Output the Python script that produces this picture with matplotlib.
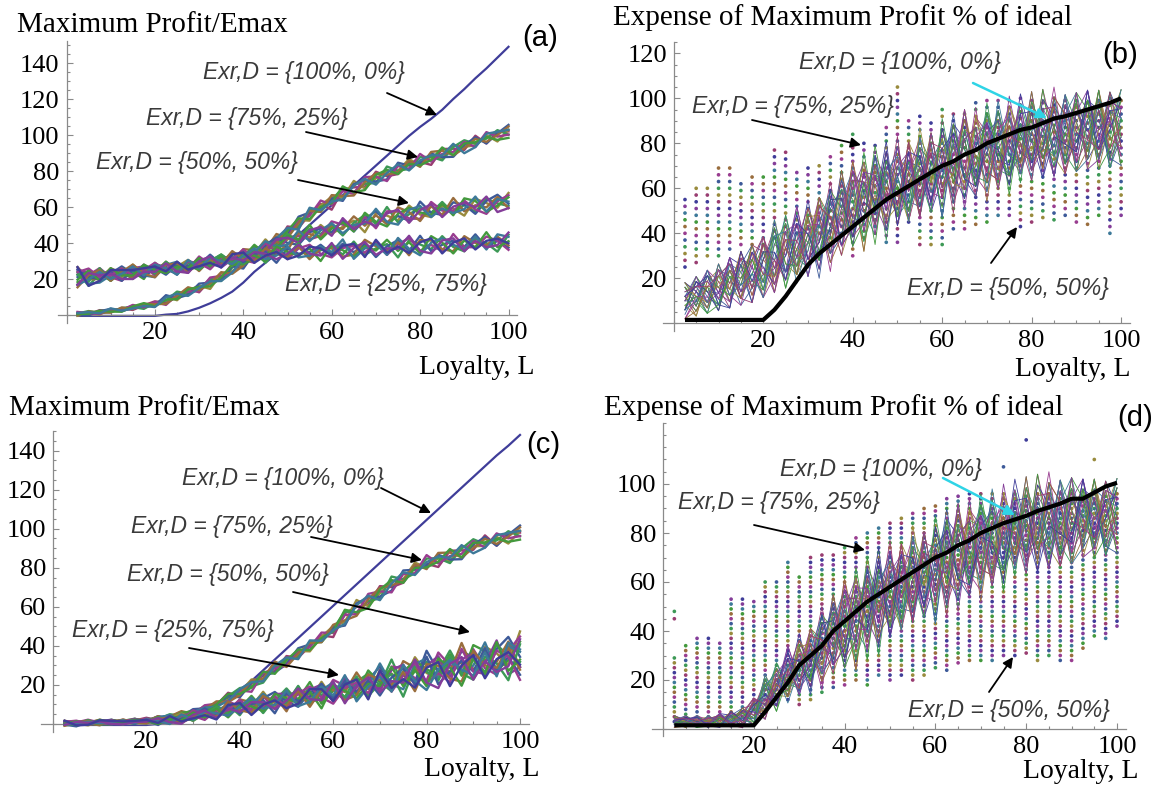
import colorsys

import numpy as np
import matplotlib
matplotlib.use("Agg")
import matplotlib.pyplot as plt
from matplotlib.patches import FancyArrowPatch
from matplotlib.ticker import MultipleLocator

W, H = 1165, 788

# ****** Data ******

loyalty = [2.5, 5, 7.5, 10, 12.5, 15, 17.5, 20, 22.5, 25, 27.5, 30, 32.5, 35, 37.5, 40,
           42.5, 45, 47.5, 50, 52.5, 55, 57.5, 60, 62.5, 65, 67.5, 70, 72.5, 75, 77.5, 80,
           82.5, 85, 87.5, 90, 92.5, 95, 97.5, 100]

# panel (a): Maximum Profit/Emax
a_ideal = [-0.5, -0.5, -0.5, -0.5, -0.5, -0.5, -0.5, -0.5, 0.2, 0.6, 2, 4, 6.5, 9.5, 13, 18,
           24, 29, 34, 39, 44.5, 50, 55.5, 61, 66.5, 72, 77.5, 83, 88.5, 94, 99.5, 104.5,
           109, 114, 120, 125.5, 131.5, 137, 143, 149]
a_75 = [0.5, 1, 1.5, 2.5, 3, 4, 5, 6, 8, 10, 13, 15, 18, 21, 25, 29,
        33, 37, 41, 46, 51, 56, 60, 63, 67, 70, 73, 76, 78, 81, 83, 85,
        87, 89.5, 91.5, 93.5, 96, 98, 100, 102]
a_50 = [21, 21, 22, 22, 23, 24, 24, 25, 26, 26, 27, 28, 29, 30, 31, 33,
        35, 37, 39, 41, 43, 45, 46, 48, 49, 50, 52, 53, 54, 55, 56, 57,
        58, 58, 59, 60, 61, 61, 62, 63]
a_25 = [21, 21, 22, 22, 23, 24, 24, 25, 26, 26, 27, 28, 29, 30, 31, 32,
        33, 33, 34, 34, 35, 35, 35, 36, 36, 36, 37, 37, 37, 38, 38, 38,
        39, 39, 39, 39, 40, 40, 40, 41]
a_low_spread = [1.5, 1.5, 1.5, 1.5, 1.5, 2, 2, 2, 3, 3, 3, 3, 3.5, 3.5, 3.5, 4,
                4, 4, 4, 4, 4.5, 4.5, 4.5, 4.5, 4.5, 4.5, 4.5, 4.5, 4.5, 4.5, 4.5, 4.5,
                4.5, 4.5, 4.5, 4.5, 4.5, 4.5, 4.5, 4.5]
a_up_spread = [7, 6, 5, 5, 5, 5, 5, 5, 4.5, 4.5, 4.5, 4.5, 4.5, 4.5, 4.5, 4.5,
               5, 5, 5, 5, 5, 5, 5, 5, 6, 6, 6, 6, 6, 6, 6, 6,
               6, 6, 6, 6, 6, 6, 6, 6]

# panel (c): Maximum Profit/Emax
c_ideal = [-0.5, -0.5, -0.5, -0.5, -0.5, -0.5, -0.5, -0.5, 0, 0.5, 1.5, 3.5, 6, 9, 13, 17.5,
           22, 27.5, 33, 38.5, 44, 49.5, 55, 60.5, 66, 71.5, 77, 82.5, 88, 93.5, 99, 104.5,
           110, 115.5, 121, 126.5, 132, 137.5, 142.5, 148]
c_75 = [0, 0, 0.5, 0.5, 1, 1, 1.5, 2, 2.5, 3.5, 5, 6, 8, 10, 13, 16,
        20, 24, 28.5, 32, 36, 40, 44, 48, 54, 59, 63, 67, 71, 75, 79, 82,
        84, 86, 88, 91, 93, 94, 96, 98]
c_50 = [0.5, 0.5, 1, 1, 1, 1, 1.5, 1.5, 2, 2.5, 3, 4, 5, 6, 8, 9,
        10, 11, 12, 13, 14, 15, 16, 17, 18, 20, 21, 23, 24, 25, 27, 28,
        29, 30, 31, 32, 33, 34, 35, 37]
c_25 = [0.5, 0.5, 0.5, 1, 1, 1, 1, 1.5, 1.5, 2, 2.5, 3.5, 4.5, 5.5, 7, 8,
        9, 10, 11, 12, 13, 14, 15, 16, 17, 18, 19, 21, 22, 23, 24, 25,
        26, 27, 28, 29, 30, 31, 32, 33]
c_75_spread = [1.5, 1.5, 1.5, 1.5, 1.5, 1.5, 1.5, 1.5, 1.5, 1.5, 2, 2, 2, 2, 3, 3,
               3.5, 3.5, 3.5, 3.5, 3.5, 3.5, 3.5, 3.5, 4.5, 4.5, 4.5, 4.5, 4.5, 4.5, 4.5, 4.5,
               4.5, 4.5, 4.5, 4.5, 4.5, 4.5, 4.5, 4.5]
c_low_spread = [1.5, 1.5, 1.5, 1.5, 1.5, 1.5, 1.5, 1.5, 2.5, 2.5, 3, 3, 3, 4, 4.5, 4.5,
                5.5, 5.5, 5.5, 6.5, 6.5, 6.5, 7, 7, 8, 8, 8, 8, 9, 9, 9, 9.5,
                9.5, 9.5, 10.5, 10.5, 11, 11, 12, 13]

# panel (b): Expense of Maximum Profit % of ideal
b_ideal = [1.5, 1.5, 1.5, 1.5, 1.5, 1.5, 1.5, 1.5, 6, 12, 19, 26, 31, 35, 39, 43,
           47, 51, 55, 58, 61, 64, 67, 70, 72, 75, 77, 80, 82, 84, 86, 87,
           89, 91, 92, 93.5, 95, 96.5, 98, 100]
b_75 = [10, 12, 14, 16, 18, 20, 22, 25, 28, 30, 33, 36, 40, 43, 47, 51,
        54, 57, 59, 61, 63, 65, 67, 69, 71, 73, 74, 76, 77, 79, 80, 81,
        82, 83, 84, 85, 86, 86, 86, 87]
b_spread = [10, 11, 12, 13, 14, 15, 16, 17, 18, 18, 19, 19, 20, 20, 21, 21,
            22, 22, 22, 22, 22, 22, 22, 22, 22, 22, 22, 22, 22, 22, 22, 22,
            22, 22, 22, 22, 22, 22, 21, 21]
b_dot_lo = [25, 27, 30, 30, 33, 35, 35, 35, 38, 40, 40, 42, 40, 38, 40, 30,
            38, 40, 36, 36, 45, 35, 35, 35, 42, 42, 44, 45, 48, 48, 43, 45,
            47, 46, 48, 45, 44, 48, 40, 48]
b_dot_hi = [55, 62, 60, 70, 70, 62, 66, 65, 77, 76, 68, 70, 72, 74, 80, 85,
            82, 80, 88, 106, 90, 92, 90, 95, 95, 95, 98, 100, 100, 100, 100, 100,
            100, 100, 100, 100, 100, 100, 100, 100]

# panel (d): Expense of Maximum Profit % of ideal
d_ideal = [1.5, 1.5, 1.5, 1.5, 1.5, 1.5, 1.5, 1.5, 7, 13, 19, 26, 30, 34, 40, 44,
           48, 52, 55, 58, 61, 64, 67, 70, 72, 75, 77, 80, 82, 84, 85.5, 87,
           89, 90.5, 92, 94, 94, 96.5, 99, 100.5]
d_75 = [3, 3, 3, 3, 3.5, 4, 4.5, 7, 12, 16, 21, 25, 29, 33, 37, 41,
        45, 49, 52, 55, 58, 61, 63, 65, 68, 70, 72, 74, 76, 78, 80, 81,
        82, 83, 84, 85, 86, 86, 86, 87]
d_spread = [3, 3, 3, 3, 3.5, 4, 5, 7, 10, 11, 13, 14, 15, 17, 18, 20,
            21, 21, 22, 22, 22, 22, 22, 22, 22, 22, 22, 22, 22, 22, 22, 22,
            22, 22, 22, 22, 20, 20, 19, 19]
d_dot_lo = [3, 2, 3, 3, 5, 5, 5, 8, 10, 10, 12, 10, 12, 15, 17, 18,
            20, 18, 22, 20, 22, 20, 22, 25, 24, 27, 28, 28, 28, 30, 30, 31,
            28, 30, 28, 28, 33, 38, 37, 42]
d_dot_hi = [30, 35, 38, 38, 35, 53, 53, 52, 60, 60, 68, 63, 70, 72, 72, 75,
            78, 80, 82, 84, 86, 88, 90, 92, 94, 95, 96, 96, 96, 96, 96, 96,
            96, 96, 96, 96, 96, 96, 96, 96]
d_out_l = [2.5, 2.5, 75, 80, 95]
d_out_y = [45, 48, 107, 118, 110]

# zig-zag of single runs around the cluster middle, in fifths of the spread
wig_1 = [3, -2, 4, -1, 2, -3, 1, 4, -2, 0, 3, -4, 2, -1, 5, -3, 1, 2, -2, 4,
         -3, 0, 2, -5, 3, 1, -2, 4, -1, -3, 2, 0, -4, 3, 1, -2, 4, -3, 2, 0]
wig_2 = [-3, 1, -4, 2, 0, 3, -2, -1, 4, -3, 1, 2, -5, 3, -1, 0, 4, -2, 3, -1,
         2, -4, 1, 3, -2, 5, -3, 0, 2, -1, 4, -2, 1, -3, 3, 0, -2, 2, -4, 1]
wig_3 = [1, 4, -1, -3, 3, 1, -4, 2, 0, 5, -2, -1, 3, -3, 2, 4, -1, -4, 1, 2,
         -2, 3, -3, 1, 4, -2, 0, -3, 5, -1, -2, 3, 1, -4, 2, 4, -1, 0, 3, -2]
wig_4 = [-1, -4, 2, 3, -3, 0, 2, -2, 5, -1, -3, 4, 0, -2, 3, -4, 2, 1, -3, -2,
         4, 1, -1, 2, -4, 3, 2, -2, -3, 4, 0, -1, 3, -2, -4, 1, 3, -3, 1, 4]
wig_5 = [4, 0, -3, 1, -1, 4, -2, 3, -4, 2, 0, -3, 4, 1, -2, 2, -5, 3, 0, -3,
         1, -1, 4, -2, 2, -3, 4, 1, -4, 2, -2, 5, -2, 0, -1, 3, -3, 4, -1, -2]
wig_6 = [-2, 3, 0, -4, 4, -2, 3, 0, -3, 1, 4, -2, -1, 4, -3, -2, 3, -1, 5, -4,
         0, 2, -3, 4, -1, -4, 1, 3, 0, -2, 3, -3, 4, 2, -3, -1, 2, -2, 0, 3]
wig_7 = [0, -1, 3, -2, -4, 2, 4, -3, 1, -2, 2, 1, -3, 0, 4, -1, -2, 4, -4, 1,
         3, -3, 0, -1, 5, -2, -4, 2, 3, -3, 1, -2, -1, 4, -3, 2, 0, 1, -3, -4]
wig_8 = [2, 2, -2, 4, -2, -1, 0, -4, 3, 3, -4, 0, 1, -3, -2, 3, 2, -3, 2, 3,
         -4, 4, -2, 0, -3, 2, 3, -4, 1, 3, -3, 1, 2, -1, 4, -4, -3, 3, 2, 1]
wiggles = [wig_1, wig_2, wig_3, wig_4, wig_5, wig_6, wig_7, wig_8]

plt.rcParams["font.family"] = ["Liberation Serif", "DejaVu Serif"]

ANNOT = dict(family="Liberation Sans", style="italic", fontsize=16.5, color="#3a3a3a")
AXIS_GRAY = "#8a8a8a"


def palette(n):
    # old Mathematica default plot colours, hues spaced by the golden ratio
    return [colorsys.hsv_to_rgb((0.67 + 2.0 * k / 1.618034) % 1.0, 0.6, 0.6) for k in range(n)]


PAL = palette(10)


def fig_xy(x, y):
    return x / W, 1 - y / H


def make_axes(fig, x0, sx, y0, sy, xlim, ylim, yticks):
    # x0,y0 = pixel of the data origin, sx,sy = pixels per unit
    left = x0 + xlim[0] * sx
    right = x0 + xlim[1] * sx
    top = y0 - ylim[1] * sy
    bottom = y0 - ylim[0] * sy
    ax = fig.add_axes([left / W, 1 - bottom / H, (right - left) / W, (bottom - top) / H])
    ax.set_xlim(*xlim)
    ax.set_ylim(*ylim)
    ax.patch.set_alpha(0)
    for s in ("top", "right"):
        ax.spines[s].set_visible(False)
    for s in ("left", "bottom"):
        ax.spines[s].set_position(("data", 0))
        ax.spines[s].set_color(AXIS_GRAY)
        ax.spines[s].set_linewidth(0.9)
    ax.set_xticks([20, 40, 60, 80, 100])
    ax.set_yticks(yticks)
    ax.xaxis.set_minor_locator(MultipleLocator(5))
    ax.yaxis.set_minor_locator(MultipleLocator(5))
    ax.tick_params(which="both", direction="in", color=AXIS_GRAY, labelcolor="black",
                   width=0.8, labelsize=19)
    ax.tick_params(which="major", length=4.5, pad=5)
    ax.tick_params(which="minor", length=2.5)
    return ax


def text(fig, x, y, s, ha="left", **kw):
    fig.text(*fig_xy(x, y), s, ha=ha, va="center", **kw)


def arrow(fig, tail, tip, color="black", lw=1.3):
    fig.add_artist(FancyArrowPatch(fig_xy(*tail), fig_xy(*tip), transform=fig.transFigure,
                                   arrowstyle="-|>", mutation_scale=15, lw=lw, color=color,
                                   shrinkA=0, shrinkB=0))


def draw_profit(ax, ideal, clusters):
    ax.plot(loyalty, ideal, color=PAL[0], lw=1.6, zorder=2)
    for c, (center, spread) in enumerate(clusters):
        for k, w in enumerate(wiggles):
            y = np.asarray(center) + np.roll(w, 3 * c) / 5.0 * np.asarray(spread)
            ax.plot(loyalty, y, color=PAL[(k + 1 + c) % 10], lw=1.7, zorder=3)


def draw_expense(ax, center, spread, ideal, dot_lo, dot_hi, step):
    for i, L in enumerate(loyalty):
        ys = np.arange(dot_lo[i], dot_hi[i] + 0.01, step)
        cols = [PAL[(i + j) % 10] for j in range(len(ys))]
        ax.scatter(np.full(len(ys), L), ys, s=7, c=cols, linewidths=0, zorder=2)
    center = np.asarray(center)
    spread = np.asarray(spread)
    n = 0
    for w in wiggles:
        w = np.asarray(w)
        for variant in (w, np.roll(w, 1), w[::-1], np.roll(w[::-1], 2)):
            ax.plot(loyalty, center + variant / 5.0 * spread, color=PAL[n % 10], lw=0.6, zorder=3)
            n += 1
    ax.plot(loyalty, ideal, color="black", lw=3, zorder=5, solid_capstyle="butt")


fig = plt.figure(figsize=(W / 100, H / 100), dpi=100)

# ****** (a) ******
ax_a = make_axes(fig, 66.5, 4.42, 315, 1.8, (-2, 102), (-4.4, 152), [20, 40, 60, 80, 100, 120, 140])
draw_profit(ax_a, a_ideal, [(a_75, a_low_spread), (a_50, a_up_spread), (a_25, a_up_spread)])

# ****** (b) ******
ax_b = make_axes(fig, 673.8, 4.473, 323.3, 2.25, (-2.5, 102), (-3.5, 125), [20, 40, 60, 80, 100, 120])
draw_expense(ax_b, b_75, b_spread, b_ideal, b_dot_lo, b_dot_hi, 3)

# ****** (c) ******
ax_c = make_axes(fig, 53, 4.67, 724, 1.953, (-2.5, 102), (-4, 150), [20, 40, 60, 80, 100, 120, 140])
draw_profit(ax_c, c_ideal, [(c_75, c_75_spread), (c_50, c_low_spread), (c_25, c_low_spread)])

# ****** (d) ******
ax_d = make_axes(fig, 663, 4.54, 729, 2.45, (-2.5, 102), (-3, 125), [20, 40, 60, 80, 100])
draw_expense(ax_d, d_75, d_spread, d_ideal, d_dot_lo, d_dot_hi, 2)
ax_d.scatter(d_out_l, d_out_y, s=7, c=[PAL[1], PAL[3], PAL[4], PAL[0], PAL[2]], linewidths=0, zorder=2)

# ****** Titles, axis names, panel letters ******
for x, y, s in [(17, 25, "Maximum Profit/Emax"), (613, 18, "Expense of Maximum Profit % of ideal"),
                (9, 408, "Maximum Profit/Emax"), (604, 408, "Expense of Maximum Profit % of ideal")]:
    text(fig, x, y, s, fontsize=21)
for x, y in [(419, 367), (1015, 369), (424, 770), (1023, 772)]:
    text(fig, x, y, "Loyalty, L", fontsize=20)
for x, y, s in [(522, 38, "(a)"), (1102, 55, "(b)"), (526, 445, "(c)"), (1117, 418, "(d)")]:
    text(fig, x, y, s, fontsize=21, family="Liberation Sans")

# ****** Annotations ******
L100 = "Exr,D = {100%, 0%}"
L75 = "Exr,D = {75%, 25%}"
L50 = "Exr,D = {50%, 50%}"
L25 = "Exr,D = {25%, 75%}"

for x, y, s in [(304, 72, L100), (247, 118, L75), (197, 162, L50), (386, 285, L25),
                (900, 62, L100), (793, 107, L75), (1008, 288, L50),
                (283, 478, L100), (232, 527, L75), (228, 575, L50), (173, 630, L25),
                (881, 470, L100), (779, 502, L75), (1009, 710, L50)]:
    text(fig, x, y, s, ha="center", **ANNOT)

for tail, tip in [((387, 93), (437, 115)), ((306, 132), (418, 157)), ((298, 180), (409, 203)),
                  ((752, 120), (861, 145)), ((991, 263), (1017, 227)),
                  ((381, 488), (431, 513)), ((311, 537), (422, 560)), ((293, 592), (470, 632)),
                  ((189, 648), (339, 675)),
                  ((754, 525), (865, 550)), ((989, 692), (1013, 657))]:
    arrow(fig, tail, tip)
arrow(fig, (973, 83), (1047, 118), color="#2fd4e6", lw=1.8)
arrow(fig, (943, 478), (1015, 515), color="#2fd4e6", lw=1.8)

fig.savefig("out.png", dpi=100)
